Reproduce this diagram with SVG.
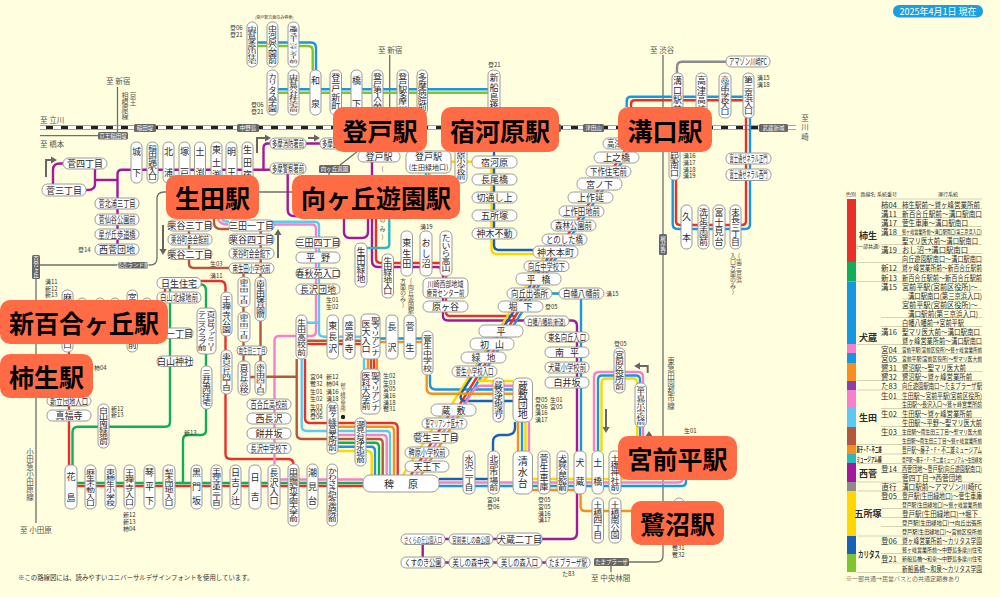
<svg xmlns="http://www.w3.org/2000/svg" width="1000" height="597" viewBox="0 0 1000 597">
<style>
text{font-family:"Noto Sans CJK JP","Noto Sans",sans-serif;fill:#2c2c2c}
.s{fill:#fff;stroke:#9a9a9a;stroke-width:1}
.v{writing-mode:vertical-rl;text-orientation:upright;text-anchor:middle;font-size:9px}
.h{text-anchor:middle;dominant-baseline:central;font-size:9px}
.l{font-size:6px;dominant-baseline:central;fill:#333}
.a{font-size:9px;dominant-baseline:central;fill:#555}
.av{writing-mode:vertical-rl;text-orientation:upright;text-anchor:middle;font-size:6px;fill:#555}
.b{fill:#666}
.bt{text-anchor:middle;dominant-baseline:central;font-size:5.5px;fill:#fff}
.btv{writing-mode:vertical-rl;text-orientation:upright;text-anchor:middle;font-size:5.5px;fill:#fff}
.c{fill:#ff6b45}
.ct{text-anchor:middle;dominant-baseline:central;font-size:25px;font-weight:700;fill:#000}
path{fill:none;stroke-width:2.4}
.red{stroke:#e8302a}.grn{stroke:#10ad5a}.blu{stroke:#1797df}.lbl{stroke:#5cc9f5}.pnk{stroke:#f680cb}.brn{stroke:#b4573f}.org{stroke:#f78f1e}.pur{stroke:#a4189c}.yel{stroke:#ffd600}.dbl{stroke:#1c5fb7}.lim{stroke:#7dc42f}.tea{stroke:#2db7bf}.gry{stroke:#8c8c8c}
.rl{stroke:#6f6f6f;stroke-width:1.3}
.ar{stroke:#666;stroke-width:2}
.lh{font-size:5px;text-anchor:middle;dominant-baseline:central;fill:#333}
.lc{font-size:7.5px;dominant-baseline:central;fill:#2c2c2c}
.ln{font-size:7.5px;text-anchor:middle;dominant-baseline:central;fill:#2c2c2c}
.lg{font-size:9px;font-weight:700;text-anchor:middle;dominant-baseline:central}
.sep{stroke:#c9c9a8;stroke-width:.8}
</style>
<defs><marker id="ah" markerWidth="3" markerHeight="3.6" refX="1" refY="1.8" orient="auto"><polygon points="0,0 3,1.8 0,3.6" fill="#666"/></marker></defs>
<rect width="1000" height="597" fill="#ffffdf"/>
<g id="connectors">
<path d="M40 127.6H796" style="stroke:#a5a5a5;stroke-width:5"/>
<path d="M40 127.6H796" style="stroke:#fff;stroke-width:3"/>
<path d="M46 127.6H796" style="stroke:#222;stroke-width:3;stroke-dasharray:7 8"/>
<path class="rl" d="M40 135.7H98M117.5 87V132M36 279V523M40 265H118M148 265H150Q157 265 157 258V199Q157 192 164 192H292M389.7 55V107M340 165L358 151M329 173V176M663 55V556Q663 562 656 562H629M611 566V572"/>
<path class="blu" d="M257 42.5H311Q316 42.5 316 48V70M272 89.3H488"/>
<path class="lim" d="M257 46H308Q312.7 46 312.7 51V70M272 92.7H488"/>
<path class="pur" d="M270 169.7H122Q117.5 169.7 117.5 174V250M95 180H117.5M95 165V184Q95 190 88 190H84M53 185V170Q53 163.5 60 163.5H65M270 143.5H268Q263.5 143.5 263.5 148V169.7M306 143.5H322M287.7 172V210Q287.7 216 294 216H300M344 215V232Q344 238 350 238H362Q368 238 368 232V215M372 160V261Q372 267 378 267H437Q443 267 443 273V316Q443 320.5 448 320.5H524M569 320.5H572Q577 320.5 577 326V533Q577 539 571 539H540M445 539H497M445 562.5H546M422.7 544V557"/>
<path class="red" d="M631 107V104Q631 100.3 635 100.3H746V221Q746 225 742 225H680Q676 225 676 221V180M626 149L552 258L460 404M376 219V258Q376 263 381 263H441Q446 263 446 268V312Q446 316 450 316H515M451 412L411 475M69 352V465M70 486H363M201 281H220Q225.5 281 225.5 287V454Q225.5 459 231 459H288Q293.5 459 293.5 464M165 288V292M305 359V418Q305 423 310 423H327M338 423H393Q397.7 423 397.7 428V475M306 344H361"/>
<path class="blu" d="M626.7 107V101Q626.7 96.7 631 96.7H745Q750 96.7 750 101V224Q750 229 745 229H677.7Q672.7 229 672.7 224V180M631 149L556 258L464 404M338 446.7H371Q375 446.7 375 451V475M439 486H682Q686 486 686 481V470M598 451V380Q598 375.5 602 375.5H636Q640 375.5 640 380V436M380 338.5H422M430 375V384Q430 389.5 436 389.5H513M552 293.5H559M581 299V451M522 422V451"/>
<path class="yel" d="M451 161.7H472M491.5 168V249Q491.5 254 497 254H533M549 250L452 404M489 375Q484 381 478 381H513M443 412L403 475M338 451H367Q371.7 451 371.7 456V475M532 479H625M601.5 451V383Q601.5 378.5 606 378.5H633Q637 378.5 637 383V436M525.5 422V451"/>
<path class="dbl" d="M494 107V245Q494 250 499 250H533M553 250L462 392Q458 401 466 401H513M439 479H493M493 451V442Q493 436 499 435H508Q515 434 515 428V422"/>
<path class="pnk" d="M218 219Q220 224.5 228 224.5M259 224.5H312Q316 224.5 316 229V331Q316 336 311 336H279Q274.5 336 274.5 341V464M465 404L473 391Q476 385.7 482 385.7H513M456 412L416 475M338 435H383Q386.7 435 386.7 439V475M280 479.5H363M439 482.5H678Q683 482.5 683 478V470M594 451V377Q594 372 599 372H638Q643 372 643 377V436M529 422V451"/>
<path class="lbl" d="M222 219Q224 221.7 229 221.7M259 221.7H315Q319 221.7 319 226V332Q319 336.7 324 336.7H361M306 322.7H319M301.7 359V426Q301.7 431 307 431H327M338 431H386Q390 431 390 435V475M364 359V369"/>
<path class="brn" d="M214 219V222Q214 229 221 229H229M189 231V249M189 259V263Q189 268 194 268H229M260.7 231V263M243.5 273V277M260.5 273V277M243.5 307V312M243.5 342V361M260.5 321V361M250 377H255M266 376.7H297M296.7 359V434Q296.7 439 302 439H327M338 439H379Q382.7 439 382.7 443V475M306 340.7H361M371 359V369"/>
<path class="org" d="M380 342H422M426.7 375V388Q426.7 393.7 432 393.7H513M461 412L421 475M338 426.7H390Q394 426.7 394 431V475M532 490H575M580.6 494V506Q580.6 511 585 511H631M518 422V451M368 359V369M377 359V369"/>
<path class="red" d="M374 359V369"/>
<path class="grn" d="M72.5 465V432Q72.5 426.7 78 426.7H165Q170 426.7 170 422V288M201 284.5Q206 284.5 206 291V430Q206 435 201 435H188Q183 435 183 440V483M70 483H363M338 442.7H375Q379 442.7 379 447V475"/>
<path class="tea" d="M367 248H385Q389.3 248 389.3 244V219M426 173V176"/>
<path class="org" d="M429 173V176"/>
<path class="gry" d="M726 61.7H682Q677 61.7 677 67V73"/>
<path class="ar" d="M46 177V160H53" marker-end="url(#ah)"/>
<path class="ar" d="M257 153V138H267" marker-end="url(#ah)"/>
<path class="ar" d="M308 138H316" marker-end="url(#ah)"/>
<path class="ar" d="M163 225V251" marker-end="url(#ah)"/>
<path class="ar" d="M278 258V233" marker-end="url(#ah)"/>
<path class="ar" d="M606 409V429" marker-end="url(#ah)"/>
<path class="ar" d="M647.7 373V366H638" marker-end="url(#ah)"/>
<polygon points="649,431 645,437 653,437" fill="#666"/>
</g>
<g id="rail-boxes">
<g id="b1"><rect class="b" x="98" y="132" width="30" height="7.5" rx="1.5"/><text class="bt" x="113" y="135.8">京王稲田堤</text></g>
<g id="b2"><rect class="b" x="134" y="124" width="22" height="8" rx="1.5"/><text class="bt" x="145" y="128">稲田堤</text></g>
<g id="b3"><rect class="b" x="237" y="124" width="22" height="8" rx="1.5"/><text class="bt" x="248" y="128">中野島</text></g>
<g id="b4"><rect class="b" x="540" y="124" width="21" height="8" rx="1.5"/><text class="bt" x="550" y="128">久地</text></g>
<g id="b5"><rect class="b" x="583" y="124" width="21" height="8" rx="1.5"/><text class="bt" x="593.5" y="128">津田山</text></g>
<g id="b6"><rect class="b" x="759" y="124" width="29" height="8" rx="1.5"/><text class="bt" x="773.5" y="128">武蔵新城</text></g>
<g id="b7"><rect class="b" x="319" y="165" width="31" height="8" rx="1.5"/><text class="bt" x="334.5" y="169">向ヶ丘遊園</text></g>
<g id="b8"><rect class="b" x="118" y="262" width="30" height="6.5" rx="1.5"/><text class="bt" x="133" y="265.2">読売ランド前</text></g>
<g id="b9"><rect class="b" x="32" y="255" width="8" height="24" rx="1.5"/><text class="btv" x="36" y="267">百合ヶ丘</text></g>
<g id="b10"><rect class="b" x="659" y="234" width="8" height="21" rx="1.5"/><text class="btv" x="663" y="244.5">梶が谷</text></g>
<g id="b11"><rect class="b" x="594" y="558" width="35" height="8" rx="1.5"/><text class="bt" x="611.5" y="562">たまプラーザ</text></g>
</g>
<g id="stations">
<g id="n1"><rect class="s" x="247" y="22" width="10.5" height="45" rx="5"/><text class="v" transform="translate(252 44.5) scale(1 .53)">中野島多摩川住宅</text></g>
<g id="n2"><rect class="s" x="267" y="22" width="11" height="45" rx="5"/><text class="v" transform="translate(272.5 44.5) scale(1 .7)">中河原公園前</text></g>
<g id="n3"><rect class="s" x="288" y="22" width="11" height="45" rx="5"/><text class="v" transform="translate(293.5 44.5) scale(1 .38)">多摩スポーツセンター前</text></g>
<g id="n4"><rect class="s" x="267" y="70" width="11" height="45" rx="5"/><text class="v" transform="translate(272.5 92.5) scale(1 .7)">カリタス学園</text></g>
<g id="n5"><rect class="s" x="288" y="70" width="11" height="45" rx="5"/><text class="v" transform="translate(293.5 92.5) scale(1 .53)">中野島公社住宅前</text></g>
<g id="n6"><rect class="s" x="310" y="70" width="11" height="45" rx="5"/><text class="v" x="315.5" y="92.5" textLength="32">和泉</text></g>
<g id="n7"><rect class="s" x="330" y="70" width="11.5" height="45" rx="5"/><text class="v" x="335.7" y="92.5" textLength="38">登戸新町</text></g>
<g id="n8"><rect class="s" x="351" y="70" width="11" height="45" rx="5"/><text class="v" x="356.5" y="92.5" textLength="32">橋下</text></g>
<g id="n9"><rect class="s" x="372" y="70" width="11" height="45" rx="5"/><text class="v" transform="translate(377.5 92.5) scale(1 .7)">登戸第1公園</text></g>
<g id="n10"><rect class="s" x="397" y="70" width="11.5" height="45" rx="5"/><text class="v" transform="translate(402.7 92.5) scale(1 .7)">登戸駅多摩川</text></g>
<g id="n11"><rect class="s" x="417" y="70" width="10.5" height="45" rx="5"/><text class="v" transform="translate(422.2 92.5) scale(1 .84)">多摩病院前</text></g>
<g id="n12"><rect class="s" x="488" y="70" width="12" height="45" rx="5"/><text class="v" x="494" y="92.5" textLength="38">新船島橋</text></g>
<g id="n13"><rect class="s" x="455" y="140" width="12" height="43" rx="5"/><text class="v" transform="translate(461 161.5) scale(1 .57)">宿河原小学校前</text></g>
<g id="n14"><rect class="s" x="358" y="151" width="42" height="11" rx="5"/><text class="h" x="379" y="156.5">登戸駅</text></g>
<g id="n15"><rect class="s" x="406" y="151" width="45" height="22" rx="5"/><text class="h" x="428.5" y="156.5">登戸駅</text><text class="h" x="428.5" y="167" style="font-size:7px">(生田緑地口)</text></g>
<g id="n16"><rect class="s" x="472" y="156" width="45" height="12" rx="5.5"/><text class="h" x="494.5" y="162">宿河原</text></g>
<g id="n17"><rect class="s" x="472" y="174" width="45" height="11" rx="5.5"/><text class="h" x="494.5" y="179.5">長尾橋</text></g>
<g id="n18"><rect class="s" x="472" y="192" width="45" height="11" rx="5.5"/><text class="h" x="494.5" y="197.5">切通し上</text></g>
<g id="n19"><rect class="s" x="472" y="210" width="45" height="11" rx="5.5"/><text class="h" x="494.5" y="215.5">五所塚</text></g>
<g id="n20"><rect class="s" x="472" y="228" width="45" height="11" rx="5.5"/><text class="h" x="494.5" y="233.5">神木不動</text></g>
<g id="n21"><rect class="s" x="533" y="246" width="45" height="12" rx="5.5"/><text class="h" x="555.5" y="252" textLength="37">神木本町</text></g>
<g id="n22"><rect class="s" x="524" y="261" width="45" height="10.5" rx="5"/><text class="h" x="546.5" y="266.2" textLength="37" lengthAdjust="spacingAndGlyphs">向丘中学校下</text></g>
<g id="n23"><rect class="s" x="516" y="273" width="45" height="12" rx="5.5"/><text class="h" x="538.5" y="279" textLength="24">平 橋</text></g>
<g id="n24"><rect class="s" x="507" y="288" width="45" height="11" rx="5.5"/><text class="h" x="529.5" y="293.5" textLength="37" lengthAdjust="spacingAndGlyphs">向丘出張所</text></g>
<g id="n25"><rect class="s" x="559" y="288" width="45" height="11" rx="5.5"/><text class="h" x="581.5" y="293.5" textLength="37" lengthAdjust="spacingAndGlyphs">白幡八幡前</text></g>
<g id="n26"><rect class="s" x="542" y="234" width="45" height="11" rx="5.5"/><text class="h" x="564.5" y="239.5" textLength="37" lengthAdjust="spacingAndGlyphs">とのした橋</text></g>
<g id="n27"><rect class="s" x="551" y="220" width="45" height="11" rx="5.5"/><text class="h" x="573.5" y="225.5" textLength="37" lengthAdjust="spacingAndGlyphs">森林公園前</text></g>
<g id="n28"><rect class="s" x="559" y="206" width="45" height="11" rx="5.5"/><text class="h" x="581.5" y="211.5" textLength="37" lengthAdjust="spacingAndGlyphs">上作田地前</text></g>
<g id="n29"><rect class="s" x="568" y="192" width="45" height="11" rx="5.5"/><text class="h" x="590.5" y="197.5">上作延</text></g>
<g id="n30"><rect class="s" x="577" y="178" width="45" height="12" rx="5.5"/><text class="h" x="599.5" y="184">宮ノ下</text></g>
<g id="n31"><rect class="s" x="586" y="166" width="45" height="11" rx="5.5"/><text class="h" x="608.5" y="171.5" textLength="37" lengthAdjust="spacingAndGlyphs">下作住宅前</text></g>
<g id="n32"><rect class="s" x="594" y="152" width="45" height="11" rx="5.5"/><text class="h" x="616.5" y="157.5">上之橋</text></g>
<g id="n33"><rect class="s" x="603" y="138" width="45" height="11" rx="5.5"/><text class="h" x="625.5" y="143.5" textLength="37" lengthAdjust="spacingAndGlyphs">高津区役所</text></g>
<g id="n34"><rect class="s" x="498" y="301" width="45" height="11" rx="5.5"/><text class="h" x="520.5" y="306.5" textLength="24">堀 下</text></g>
<g id="n35"><rect class="s" x="524" y="316" width="45" height="10" rx="5"/><text class="h" x="546.5" y="321" textLength="38" lengthAdjust="spacingAndGlyphs" style="font-size:8px">白幡八幡前(新道)</text></g>
<g id="n36"><rect class="s" x="479" y="325" width="44" height="12" rx="5.5"/><text class="h" x="501" y="331">平</text></g>
<g id="n37"><rect class="s" x="470" y="338" width="44" height="12" rx="5.5"/><text class="h" x="492" y="344" textLength="24">初 山</text></g>
<g id="n38"><rect class="s" x="461" y="352" width="45" height="11" rx="5.5"/><text class="h" x="483.5" y="357.5" textLength="24">緑 地</text></g>
<g id="n39"><rect class="s" x="452" y="366" width="45" height="11" rx="5.5"/><text class="h" x="474.5" y="371.5" textLength="38" lengthAdjust="spacingAndGlyphs">菅生小学校入口</text></g>
<g id="n40"><rect class="s" x="431" y="404" width="45" height="12" rx="5.5"/><text class="h" x="453.5" y="410" textLength="24">蔵 敷</text></g>
<g id="n41"><rect class="s" x="422" y="418" width="45" height="11" rx="5.5"/><text class="h" x="444.5" y="423.5" textLength="38" lengthAdjust="spacingAndGlyphs">聖マリアンナ医大下</text></g>
<g id="n42"><rect class="s" x="414" y="432" width="44" height="11" rx="5.5"/><text class="h" x="436" y="437.5">菅生三丁目</text></g>
<g id="n43"><rect class="s" x="405" y="447" width="44" height="11" rx="5.5"/><text class="h" x="427" y="452.5" textLength="37" lengthAdjust="spacingAndGlyphs">稗原小学校前</text></g>
<g id="n44"><rect class="s" x="405" y="461" width="44" height="11" rx="5.5"/><text class="h" x="427" y="466.5">天王下</text></g>
<g id="n45"><rect class="s" x="363" y="475" width="76" height="17" rx="7"/><text class="h" x="401" y="483.5" style="font-size:10px" textLength="34">稗 原</text></g>
<g id="n46"><rect class="s" x="423" y="301" width="45" height="11" rx="5.5"/><text class="h" x="445.5" y="306.5">原ヶ谷</text></g>
<g id="n47"><rect class="s" x="423" y="278" width="45" height="20" rx="5"/><text class="h" x="445.5" y="283.5" textLength="36" lengthAdjust="spacingAndGlyphs" style="font-size:8px">川崎西部地域</text><text class="h" x="445.5" y="292.5" textLength="38" lengthAdjust="spacingAndGlyphs" style="font-size:8px">療育センター前</text></g>
<g id="n48"><rect class="s" x="440" y="231" width="12" height="45" rx="5"/><text class="v" transform="translate(446 253.5) scale(1 .84)">たいら高山</text></g>
<g id="n49"><rect class="s" x="420" y="231" width="12" height="45" rx="5"/><text class="v" x="426" y="253.5" textLength="30">おし沼</text></g>
<g id="n50"><rect class="s" x="401" y="231" width="11.5" height="45" rx="5"/><text class="v" x="406.7" y="253.5" textLength="30">東生田</text></g>
<g id="n51"><rect class="s" x="382" y="254" width="11.5" height="44" rx="5"/><text class="v" transform="translate(387.7 276) scale(1 .7)">生田緑地入口</text></g>
<g id="n52"><rect class="s" x="355" y="243" width="12" height="44" rx="5"/><text class="v" x="361" y="265" textLength="36">生田緑地</text></g>
<g id="n53"><rect class="s" x="545" y="332" width="44" height="10" rx="5"/><text class="h" x="567" y="337" textLength="38" lengthAdjust="spacingAndGlyphs">東名向丘入口</text></g>
<g id="n54"><rect class="s" x="545" y="347" width="44" height="10.5" rx="5"/><text class="h" x="567" y="352" textLength="24">南 平</text></g>
<g id="n55"><rect class="s" x="545" y="362" width="44" height="11" rx="5"/><text class="h" x="567" y="367.5" textLength="38" lengthAdjust="spacingAndGlyphs">犬蔵小学校前</text></g>
<g id="n56"><rect class="s" x="545" y="377" width="44" height="11" rx="5"/><text class="h" x="567" y="382.5">白井坂</text></g>
<g id="n57"><rect class="s" x="493" y="378" width="11" height="44" rx="5"/><text class="v" transform="translate(498.5 400) scale(1 .6)">蔵敷浄水場通り</text></g>
<g id="n58"><rect class="s" x="513" y="378" width="19.5" height="44" rx="6"/><text class="v" x="522.7" y="400" style="font-size:10px" textLength="38">蔵敷団地</text></g>
<g id="n59"><rect class="s" x="513" y="451" width="19.5" height="43" rx="6"/><text class="v" x="522.7" y="472.5" style="font-size:10px" textLength="32">清水台</text></g>
<g id="n60"><rect class="s" x="463" y="451" width="12" height="43" rx="5"/><text class="v" transform="translate(469 472.5) scale(1 .82)">水沢二丁目</text></g>
<g id="n61"><rect class="s" x="488" y="451" width="11.5" height="43" rx="5"/><text class="v" transform="translate(493.7 472.5) scale(1 .82)">北部市場前</text></g>
<g id="n62"><rect class="s" x="538" y="451" width="12" height="43" rx="5"/><text class="v" x="544" y="472.5" textLength="37">菅生車庫</text></g>
<g id="n63"><rect class="s" x="557" y="451" width="11" height="43" rx="5"/><text class="v" transform="translate(562.5 472.5) scale(1 .68)">犬蔵公民館前</text></g>
<g id="n64"><rect class="s" x="574" y="451" width="12" height="43" rx="5"/><text class="v" x="580" y="472.5" textLength="28">犬蔵</text></g>
<g id="n65"><rect class="s" x="592" y="451" width="11.5" height="43" rx="5"/><text class="v" x="597.7" y="472.5" textLength="28">土橋</text></g>
<g id="n66"><rect class="s" x="609" y="451" width="12" height="43" rx="5"/><text class="v" transform="translate(615 472.5) scale(1 .82)">土橋神社前</text></g>
<g id="n67"><rect class="s" x="592" y="498" width="11.5" height="45" rx="5"/><text class="v" transform="translate(597.7 520.5) scale(1 .84)">土橋四丁目</text></g>
<g id="n68"><rect class="s" x="609" y="498" width="12" height="45" rx="5"/><text class="v" transform="translate(615 520.5) scale(1 .84)">土橋南公園</text></g>
<g id="n69"><rect class="s" x="614" y="348" width="11" height="45" rx="5"/><text class="v" transform="translate(619.5 370.5) scale(1 .7)">宮前区役所前</text></g>
<g id="n70"><rect class="s" x="635" y="383" width="11.5" height="44" rx="5"/><text class="v" transform="translate(640.7 405) scale(1 .53)">富士見台小学校前</text></g>
<g id="n71"><rect class="s" x="401" y="534" width="44" height="10.5" rx="5"/><text class="h" x="423" y="539.2" textLength="38" lengthAdjust="spacingAndGlyphs" style="font-size:8px">さくらの丘公園入口</text></g>
<g id="n72"><rect class="s" x="449" y="534" width="44" height="10.5" rx="5"/><text class="h" x="471" y="539.2" textLength="38" lengthAdjust="spacingAndGlyphs" style="font-size:8px">宮前美しの森公園</text></g>
<g id="n73"><rect class="s" x="497" y="533" width="45" height="12" rx="5"/><text class="h" x="519.5" y="539">犬蔵二丁目</text></g>
<g id="n74"><rect class="s" x="401" y="557" width="44" height="11" rx="5"/><text class="h" x="423" y="562.5" textLength="37" lengthAdjust="spacingAndGlyphs">くすのき公園</text></g>
<g id="n75"><rect class="s" x="449" y="557" width="44" height="11" rx="5"/><text class="h" x="471" y="562.5" textLength="37" lengthAdjust="spacingAndGlyphs">美しの森中央</text></g>
<g id="n76"><rect class="s" x="497" y="557" width="45" height="11" rx="5"/><text class="h" x="519.5" y="562.5" textLength="37" lengthAdjust="spacingAndGlyphs">美しの森入口</text></g>
<g id="n77"><rect class="s" x="546" y="557" width="44" height="11" rx="5"/><text class="h" x="568" y="562.5" textLength="38" lengthAdjust="spacingAndGlyphs">たまプラーザ駅</text></g>
<g id="n78"><rect class="s" x="65" y="465" width="12" height="44" rx="5"/><text class="v" x="71" y="487" textLength="30">花島</text></g>
<g id="n79"><rect class="s" x="85" y="465" width="11" height="44" rx="5"/><text class="v" transform="translate(90.5 487) scale(1 .68)">麻生不動入口</text></g>
<g id="n80"><rect class="s" x="105" y="465" width="11" height="44" rx="5"/><text class="v" transform="translate(110.5 487) scale(1 .68)">東柿生小学校</text></g>
<g id="n81"><rect class="s" x="124" y="465" width="11" height="44" rx="5"/><text class="v" transform="translate(129.5 487) scale(1 .82)">王禅寺入口</text></g>
<g id="n82"><rect class="s" x="144" y="465" width="11" height="44" rx="5"/><text class="v" x="149.5" y="487" textLength="37">琴平下</text></g>
<g id="n83"><rect class="s" x="163" y="465" width="12" height="44" rx="5"/><text class="v" transform="translate(169 487) scale(1 .68)">梨木団地入口</text></g>
<g id="n84"><rect class="s" x="191" y="465" width="11" height="44" rx="5"/><text class="v" x="196.5" y="487" textLength="37">黒門坂</text></g>
<g id="n85"><rect class="s" x="211" y="465" width="11" height="44" rx="5"/><text class="v" transform="translate(216.5 487) scale(1 .59)">王禅寺東三丁目</text></g>
<g id="n86"><rect class="s" x="230" y="465" width="11" height="44" rx="5"/><text class="v" x="235.5" y="487" textLength="37">日吉ノ辻</text></g>
<g id="n87"><rect class="s" x="249" y="465" width="12" height="44" rx="5"/><text class="v" x="255" y="487" textLength="28">日吉</text></g>
<g id="n88"><rect class="s" x="268" y="465" width="12" height="44" rx="5"/><text class="v" x="274" y="487" textLength="37">長沢入口</text></g>
<g id="n89"><rect class="s" x="288" y="464" width="11" height="62" rx="5"/><text class="v" transform="translate(293.5 495) scale(1 .67)">田園調布学園大学前</text></g>
<g id="n90"><rect class="s" x="307" y="464" width="11" height="45" rx="5"/><text class="v" x="312.5" y="486.5" textLength="37">潮見台</text></g>
<g id="n91"><rect class="s" x="327" y="464" width="10.5" height="62" rx="5"/><text class="v" transform="translate(332.2 495) scale(1 .67)">かわさき記念病院前</text></g>
<g id="n92"><rect class="s" x="327" y="402" width="11" height="52" rx="5"/><text class="v" transform="translate(332.5 428) scale(1 .73)">鷲ヶ峰営業所前</text></g>
<g id="n93"><rect class="s" x="355" y="418" width="11" height="48" rx="5"/><text class="v" transform="translate(360.5 442) scale(1 .67)">潮見台浄水場前</text></g>
<g id="n94"><rect class="s" x="296" y="315" width="11" height="44" rx="5"/><text class="v" transform="translate(301.5 337) scale(1 .82)">生田高校前</text></g>
<g id="n95"><rect class="s" x="327" y="315" width="11.5" height="44" rx="5"/><text class="v" x="332.7" y="337" textLength="32">東長沢</text></g>
<g id="n96"><rect class="s" x="343" y="315" width="12" height="44" rx="5"/><text class="v" x="349" y="337" textLength="32">盛源寺</text></g>
<g id="n97"><rect class="s" x="361" y="314" width="19" height="45" rx="5"/><text class="v" transform="translate(375.5 336.5) scale(1 .7)">聖マリアンナ</text><text class="v" transform="translate(366 336.5) scale(1 .94)">医大入口</text></g>
<g id="n98"><rect class="s" x="361" y="369" width="19" height="45" rx="5"/><text class="v" transform="translate(375.5 391.5) scale(1 .7)">聖マリアンナ</text><text class="v" transform="translate(366 391.5) scale(1 .84)">医科大学前</text></g>
<g id="n99"><rect class="s" x="386" y="315" width="12" height="44" rx="5"/><text class="v" x="392" y="337" textLength="30">長沢</text></g>
<g id="n100"><rect class="s" x="404" y="315" width="12" height="44" rx="5"/><text class="v" x="410" y="337" textLength="30">菅生</text></g>
<g id="n101"><rect class="s" x="422" y="331" width="11" height="44" rx="5"/><text class="v" transform="translate(427.5 353) scale(1 .82)">菅生中学校</text></g>
<g id="n102"><rect class="s" x="296" y="237" width="44" height="11" rx="5"/><text class="h" x="318" y="242.5">三田四丁目</text></g>
<g id="n103"><rect class="s" x="296" y="252" width="44" height="11" rx="5"/><text class="h" x="318" y="257.5" textLength="24">平 野</text></g>
<g id="n104"><rect class="s" x="296" y="268" width="44" height="10.5" rx="5"/><text class="h" x="318" y="273.2">春秋苑入口</text></g>
<g id="n105"><rect class="s" x="296" y="284" width="44" height="10.5" rx="5"/><text class="h" x="318" y="289.2">長沢団地</text></g>
<g id="n106"><rect class="s" x="247" y="399" width="44" height="10.5" rx="5"/><text class="h" x="269" y="404.2" textLength="37" lengthAdjust="spacingAndGlyphs">百合丘高校前</text></g>
<g id="n107"><rect class="s" x="247" y="413" width="44" height="11" rx="5"/><text class="h" x="269" y="418.5">西長沢</text></g>
<g id="n108"><rect class="s" x="247" y="428" width="44" height="11" rx="5"/><text class="h" x="269" y="433.5">餅井坂</text></g>
<g id="n109"><rect class="s" x="247" y="443" width="44" height="10.5" rx="5"/><text class="h" x="269" y="448.2" textLength="37" lengthAdjust="spacingAndGlyphs">長沢中学校下</text></g>
<g id="n110"><rect class="s" x="238" y="277" width="12" height="30" rx="5"/><text class="v" transform="translate(244 292) scale(1 .46)">南生田二丁目</text></g>
<g id="n111"><rect class="s" x="255" y="277" width="11" height="44" rx="5"/><text class="v" transform="translate(260.5 299) scale(1 .6)">南生田保育園前</text></g>
<g id="n112"><rect class="s" x="238" y="312" width="12" height="30" rx="5"/><text class="v" transform="translate(244 327) scale(1 .46)">南生田一丁目</text></g>
<g id="n113"><rect class="s" x="237" y="346" width="30" height="9" rx="4"/><text class="h" x="252" y="350.5" textLength="27" lengthAdjust="spacingAndGlyphs" style="font-size:8px">南生田三丁目</text></g>
<g id="n114"><rect class="s" x="238" y="361" width="12" height="34" rx="5"/><text class="v" transform="translate(244 378) scale(1 .64)">百合丘高校</text></g>
<g id="n115"><rect class="s" x="255" y="361" width="11" height="34" rx="5"/><text class="v" transform="translate(260.5 378) scale(1 .54)">南生田四丁目</text></g>
<g id="n116"><rect class="s" x="221" y="292" width="11" height="44" rx="5"/><text class="v" transform="translate(226.5 314) scale(1 .82)">王禅寺公園</text></g>
<g id="n117"><rect class="s" x="221" y="350" width="11" height="44" rx="5"/><text class="v" transform="translate(226.5 372) scale(1 .59)">東百合丘四丁目</text></g>
<g id="n118"><rect class="s" x="197" y="308" width="19" height="46" rx="5"/><text class="v" transform="translate(211 331) scale(1 .56)">百合丘ファミリー</text><text class="v" transform="translate(202 331) scale(1 .63)">テニスクラブ前</text></g>
<g id="n119"><rect class="s" x="201" y="366" width="11" height="43" rx="5"/><text class="v" transform="translate(206.5 387.5) scale(1 .68)">三井第四住宅</text></g>
<g id="n120"><rect class="s" x="157" y="277.5" width="44" height="11" rx="5"/><text class="h" x="179" y="283">日生住宅</text></g>
<g id="n121"><rect class="s" x="157" y="292" width="44" height="11" rx="5"/><text class="h" x="179" y="297.5" textLength="38" lengthAdjust="spacingAndGlyphs">白山北緑地前</text></g>
<g id="n122"><rect class="s" x="148" y="328" width="45" height="10.5" rx="5"/><text class="h" x="170.5" y="333.2">白山一丁目</text></g>
<g id="n123"><rect class="s" x="157" y="356" width="36" height="10.5" rx="5"/><text class="h" x="175" y="361.2">白山神社</text></g>
<g id="n124"><rect class="s" x="98" y="404" width="11" height="44" rx="5"/><text class="v" transform="translate(103.5 426) scale(1 .7)">白山南緑地前</text></g>
<g id="n125"><rect class="s" x="47" y="410" width="44" height="11" rx="5"/><text class="h" x="69" y="415.5">真福寺</text></g>
<g id="n126"><rect class="s" x="47" y="396" width="44" height="10" rx="5"/><text class="h" x="69" y="401" textLength="38" lengthAdjust="spacingAndGlyphs">新立団地入口</text></g>
<g id="n127"><rect class="s" x="62" y="290" width="11" height="62" rx="5"/><text class="v" transform="translate(67.5 321) scale(1 .89)">麻生区役所入口</text></g>
<g id="n128"><rect class="s" x="127" y="290" width="10.5" height="62" rx="5"/><text class="v" x="132.2" y="321" textLength="56">宮前区役所前</text></g>
<rect class="s" x="77" y="298" width="10" height="40" rx="5"/><rect class="s" x="95" y="298" width="10" height="40" rx="5"/><rect class="s" x="110" y="298" width="10" height="40" rx="5"/><rect class="s" x="142" y="298" width="10" height="40" rx="5"/>
<g id="n129"><rect class="s" x="131" y="142" width="11" height="41" rx="5"/><text class="v" x="136.5" y="162.5" textLength="30">城下</text></g>
<g id="n130"><rect class="s" x="147" y="142" width="11" height="41" rx="5"/><text class="v" transform="translate(152.5 162.5) scale(1 .65)">稲田堤駅入口</text></g>
<g id="n131"><rect class="s" x="163" y="142" width="11" height="41" rx="5"/><text class="v" x="168.5" y="162.5" textLength="30">北浦</text></g>
<g id="n132"><rect class="s" x="179" y="142" width="11" height="41" rx="5"/><text class="v" x="184.5" y="162.5" textLength="30">塚戸</text></g>
<g id="n133"><rect class="s" x="194.5" y="142" width="11" height="41" rx="5"/><text class="v" x="200" y="162.5" textLength="30">土渕</text></g>
<g id="n134"><rect class="s" x="211" y="142" width="11" height="41" rx="5"/><text class="v" x="216.5" y="162.5" textLength="34">東土渕</text></g>
<g id="n135"><rect class="s" x="226" y="142" width="11" height="41" rx="5"/><text class="v" x="231.5" y="162.5" textLength="30">明王</text></g>
<g id="n136"><rect class="s" x="242" y="142" width="11" height="41" rx="5"/><text class="v" x="247.5" y="162.5" textLength="34">生田宿</text></g>
<g id="n137"><rect class="s" x="270" y="138" width="36" height="11" rx="5"/><text class="h" x="288" y="143.5" textLength="32" lengthAdjust="spacingAndGlyphs">多摩消防署前</text></g>
<g id="n138"><rect class="s" x="270" y="163" width="36" height="11" rx="5"/><text class="h" x="288" y="168.5" textLength="32" lengthAdjust="spacingAndGlyphs">多摩警察署前</text></g>
<g id="n139"><rect class="s" x="320" y="138" width="36" height="11" rx="5"/><text class="h" x="338" y="143.5" textLength="32" lengthAdjust="spacingAndGlyphs">多摩区役所前</text></g>
<g id="n140"><rect class="s" x="42" y="184" width="44" height="12" rx="5.5"/><text class="h" x="64" y="190">菅三丁目</text></g>
<g id="n141"><rect class="s" x="63" y="158" width="44" height="11" rx="5.5"/><text class="h" x="85" y="163.5">菅四丁目</text></g>
<g id="n142"><rect class="s" x="95" y="198" width="44" height="11" rx="5"/><text class="h" x="117" y="203.5" textLength="37" lengthAdjust="spacingAndGlyphs">菅北浦三丁目</text></g>
<g id="n143"><rect class="s" x="95" y="214" width="44" height="11" rx="5"/><text class="h" x="117" y="219.5" textLength="37" lengthAdjust="spacingAndGlyphs">菅仙谷公園前</text></g>
<g id="n144"><rect class="s" x="95" y="229" width="44" height="10.5" rx="5"/><text class="h" x="117" y="234.2" textLength="37" lengthAdjust="spacingAndGlyphs">星が丘歩道橋</text></g>
<g id="n145"><rect class="s" x="95" y="244" width="44" height="11" rx="5"/><text class="h" x="117" y="249.5">西菅団地</text></g>
<g id="n146"><rect class="s" x="168" y="220" width="44" height="11" rx="5"/><text class="h" x="190" y="225.5">栗谷三丁目</text></g>
<g id="n147"><rect class="s" x="168" y="234" width="44" height="11" rx="5"/><text class="h" x="190" y="239.5" textLength="38" lengthAdjust="spacingAndGlyphs">栗谷町会会館前</text></g>
<g id="n148"><rect class="s" x="168" y="249" width="44" height="10.5" rx="5"/><text class="h" x="190" y="254.2">栗谷二丁目</text></g>
<g id="n149"><rect class="s" x="229" y="220" width="45" height="11" rx="5"/><text class="h" x="251.5" y="225.5">三田一丁目</text></g>
<g id="n150"><rect class="s" x="229" y="234" width="45" height="11" rx="5"/><text class="h" x="251.5" y="239.5">栗谷四丁目</text></g>
<g id="n151"><rect class="s" x="229" y="248" width="45" height="11" rx="5"/><text class="h" x="251.5" y="253.5" textLength="38" lengthAdjust="spacingAndGlyphs">栗谷町会会館下</text></g>
<g id="n152"><rect class="s" x="229" y="263" width="45" height="10.5" rx="5"/><text class="h" x="251.5" y="268.2" textLength="38" lengthAdjust="spacingAndGlyphs">南生田小学校前</text></g>
<g id="n153"><rect class="s" x="672" y="73" width="11" height="44" rx="5"/><text class="v" x="677.5" y="95" textLength="38">溝口駅前</text></g>
<g id="n154"><rect class="s" x="696" y="73" width="11" height="44" rx="5"/><text class="v" x="701.5" y="95" textLength="38">高津高校</text></g>
<g id="n155"><rect class="s" x="719" y="73" width="12" height="45" rx="5"/><text class="v" transform="translate(725 95.5) scale(1 .6)">高津中学校入口</text></g>
<g id="n156"><rect class="s" x="743" y="73" width="11" height="45" rx="5"/><text class="v" transform="translate(748.5 95.5) scale(1 .7)">第三京浜入口</text></g>
<g id="n157"><rect class="s" x="726" y="56" width="44" height="11" rx="5"/><text class="h" x="748" y="61.5" textLength="38" lengthAdjust="spacingAndGlyphs">アマゾン川崎FC</text></g>
<g id="n158"><rect class="s" x="669" y="136" width="11" height="44" rx="5"/><text class="v" transform="translate(674.5 158) scale(1 .84)">溝口駅南口</text></g>
<g id="n159"><rect class="s" x="726" y="153" width="45" height="11" rx="5"/><text class="h" x="748.5" y="158.5" textLength="38" lengthAdjust="spacingAndGlyphs">富士通ゼネラル正門</text></g>
<g id="n160"><rect class="s" x="726" y="169" width="45" height="11.5" rx="5"/><text class="h" x="748.5" y="174.7" textLength="38" lengthAdjust="spacingAndGlyphs">富士通ゼネラル西門</text></g>
<g id="n161"><rect class="s" x="681" y="205" width="11" height="44" rx="5"/><text class="v" x="686.5" y="227" textLength="30">久本</text></g>
<g id="n162"><rect class="s" x="698" y="205" width="11" height="44" rx="5"/><text class="v" transform="translate(703.5 227) scale(1 .84)">洗足学園前</text></g>
<g id="n163"><rect class="s" x="713" y="205" width="12" height="44" rx="5"/><text class="v" x="719" y="227" textLength="38">富士見台</text></g>
<g id="n164"><rect class="s" x="730" y="205" width="11" height="44" rx="5"/><text class="v" transform="translate(735.5 227) scale(1 .84)">末長三丁目</text></g>
<rect class="s" x="674" y="498" width="10" height="40" rx="5"/>
</g>
<g id="labels">
<text class="l" x="230" y="27">登06</text><text class="l" x="230" y="34">登21</text><text class="l" x="251" y="104">登06</text><text class="l" x="251" y="111">登21</text><text class="l" x="488" y="64">登21</text>
<text class="l" x="255" y="17" style="font-size:4px">(登戸駅方面のみ停車)</text>
<text class="l" x="78" y="249">登14</text><text class="l" x="210" y="263">生03</text><text class="l" x="210" y="275">溝11</text>
<text class="l" x="45" y="281">溝11</text><text class="l" x="45" y="288">新12</text><text class="l" x="45" y="294">新13</text>
<text class="l" x="94" y="367">柿04</text><text class="l" x="111" y="408">新12</text><text class="l" x="111" y="414">新13</text><text class="l" x="184" y="432">新13</text>
<text class="l" x="123" y="514">新12</text><text class="l" x="123" y="521">新13</text><text class="l" x="123" y="528">柿04</text>
<text class="l" x="326" y="299">生01</text><text class="l" x="326" y="306">生02</text>
<text class="l" x="310" y="376">宮04</text><text class="l" x="310" y="383">鷺32</text><text class="l" x="310" y="391">生01</text><text class="l" x="310" y="398">生02</text><text class="l" x="310" y="406">生03</text><text class="l" x="310" y="411">登05</text><text class="l" x="310" y="416">登06</text>
<text class="l" x="326" y="376">新12</text><text class="l" x="326" y="383">柿04</text><text class="l" x="326" y="391">溝16</text><text class="l" x="326" y="398">溝18</text>
<text class="av" transform="translate(343 397) scale(1 .9)" style="font-size:5.5px">鷲ヶ峰営業所</text><circle cx="343" cy="417" r="2.2" fill="#222"/>
<text class="l" x="383" y="375">生02</text><text class="l" x="383" y="382">生03</text><text class="l" x="383" y="388">宮05</text><text class="l" x="383" y="395">溝16</text><text class="l" x="383" y="402">溝18</text><text class="l" x="383" y="408">鷺31</text>
<text class="l" x="535" y="399">登05</text><text class="l" x="535" y="406">登06</text><text class="l" x="535" y="412">溝16</text><text class="l" x="535" y="419">溝17</text><text class="l" x="550" y="399">生01</text><text class="l" x="550" y="406">宮05</text>
<text class="l" x="538" y="499">登05</text><text class="l" x="538" y="506">宮05</text><text class="l" x="538" y="513">溝16</text><text class="l" x="538" y="519">溝17</text>
<text class="l" x="487" y="499">宮04</text><text class="l" x="487" y="506">登06</text>
<text class="l" x="420" y="226">溝19</text><text class="l" x="606" y="293.5">溝15</text><text class="l" x="545" y="306.5">登05</text><text class="l" x="614" y="343">登05</text><text class="l" x="562" y="573">た83</text>
<text class="l" x="683" y="155">溝16</text><text class="l" x="683" y="162">溝17</text><text class="l" x="683" y="169">溝18</text><text class="l" x="683" y="175">溝19</text>
<text class="l" x="757" y="77">溝15</text><text class="l" x="757" y="84">溝18</text>
<text class="l" x="684" y="430">生01</text><text class="l" x="672" y="547">鷺31</text><text class="l" x="672" y="554">鷺32</text>
<text class="av" x="739" y="253" style="text-anchor:start" >(第三京浜</text><text class="av" x="733" y="253" style="text-anchor:start">入口方面のみ)</text>
<text class="av" x="411" y="278" style="text-anchor:start">(向丘遊園駅</text><text class="av" x="403" y="278" style="text-anchor:start">方面のみ)</text>
<text class="av" x="382.5" y="166" style="text-anchor:start" textLength="74">(おし沼方向のみ)</text>
<text class="a" x="106" y="80" style="font-size:7.5px">至 新宿</text><text class="a" x="378" y="49" style="font-size:7.5px">至 新宿</text><text class="a" x="650" y="49" style="font-size:7.5px">至 渋谷</text>
<text class="a" x="40" y="119.5" style="font-size:7.5px">至 立川</text><text class="a" x="40" y="143" style="font-size:7.5px">至 橋本</text>
<text class="a" x="20" y="529" style="font-size:7.5px">至 小田原</text><text class="a" x="591" y="577" style="font-size:7.5px">至 中央林間</text>
<text class="av" x="805" y="114" style="font-size:7.5px;text-anchor:start" textLength="27">至川崎</text>
<text class="av" x="133" y="92" style="font-size:7px;text-anchor:start">京王</text><text class="av" x="125" y="92" style="font-size:7px;text-anchor:start">相模原線</text>
<text class="av" x="30" y="448" style="font-size:7.5px;text-anchor:start">小田急小田原線</text>
<text class="av" x="671" y="357" style="font-size:7.5px;text-anchor:start">東急田園都市線</text>
<text class="l" x="18" y="577" style="font-size:6.4px">※この路線図には、読みやすいユニバーサルデザインフォントを使用しています。</text>
</g>
<g id="date"><rect x="893" y="5" width="90" height="12.5" rx="6" fill="#1b9fe0"/><text class="h" x="938" y="11" style="fill:#fff;font-size:9px">2025年4月1日 現在</text></g>
<g id="legend">
<text class="lh" x="851" y="193">色別</text><text class="lh" x="868" y="193">路線名</text><text class="lh" x="887" y="193">系統番号</text><text class="lh" x="948" y="193">運行系統</text>
<rect x="847" y="199" width="9" height="63" fill="#e8302a"/><rect x="847" y="262" width="9" height="19.500" fill="#10ad5a"/><rect x="847" y="281.500" width="9" height="62.500" fill="#1797df"/><rect x="847" y="344" width="9" height="9" fill="#f680cb"/><rect x="847" y="353" width="9" height="10" fill="#1797df"/><rect x="847" y="363" width="9" height="18" fill="#f78f1e"/><rect x="847" y="381" width="9" height="9" fill="#8a3fae"/><rect x="847" y="390" width="9" height="18" fill="#f680cb"/><rect x="847" y="408" width="9" height="19" fill="#5cc9f5"/><rect x="847" y="427" width="9" height="18" fill="#b4573f"/><rect x="847" y="445" width="9" height="9" fill="#f78f1e"/><rect x="847" y="454" width="9" height="9" fill="#2db7bf"/><rect x="847" y="463" width="9" height="19" fill="#a4189c"/><rect x="847" y="482" width="9" height="9" fill="#8c8c8c"/><rect x="847" y="491" width="9" height="45" fill="#ffd600"/><rect x="847" y="536" width="9" height="18" fill="#1c5fb7"/><rect x="847" y="554" width="9" height="18" fill="#7dc42f"/>
<path class="sep" style="stroke-width:.8" d="M881 199H982M881 208.500H982M881 217.500H982M881 226.500H982M881 235.500H982M881 244.500H982M881 253.500H982M857 262.500H982M881 272H982M857 281.500H982M902 290H982M902 299H982M902 308.500H982M881 326.500H982M881 317.500H982M902 335.500H982M857 344.500H982M881 353.500H982M881 362.500H982M881 371.500H982M857 380.500H982M857 390H982M881 399.500H982M881 408.500H982M881 417.500H982M881 426.500H982M881 435.500H982M857 444.500H982M881 454H982M857 463.500H982M881 472.500H982M857 482H982M857 491H982M881 499.500H982M881 508.500H982M881 517.500H982M881 526.500H982M857 536H982M881 544.500H982M881 553.500H982M881 563H982M857 572.500H982"/>
<text class="lg" x="868" y="235">柿生</text><text class="lh" x="868" y="245">(一部共通)</text><text class="lg" x="868" y="337">犬蔵</text><text class="lg" x="868" y="417">生田</text>
<text class="lg" x="869" y="449" style="font-size:7px" textLength="25" lengthAdjust="spacingAndGlyphs">藤子・F・不二雄</text><text class="lg" x="869" y="459" style="font-size:7px" textLength="25" lengthAdjust="spacingAndGlyphs">ミュージアム線</text>
<text class="lg" x="868" y="473">西菅</text><text class="lg" x="868" y="513">五所塚</text><text class="lg" x="869" y="554" textLength="22" lengthAdjust="spacingAndGlyphs">カリタス</text>
<text class="ln" x="889" y="204">柿04</text><text class="ln" x="889" y="213">溝11</text><text class="ln" x="889" y="222">溝17</text><text class="ln" x="889" y="231">溝18</text><text class="ln" x="889" y="249">溝19</text><text class="ln" x="889" y="267">新12</text><text class="ln" x="889" y="277">新13</text><text class="ln" x="889" y="286">溝15</text><text class="ln" x="889" y="331">溝16</text><text class="ln" x="889" y="349">宮04</text><text class="ln" x="889" y="358">宮05</text><text class="ln" x="889" y="367">鷺31</text><text class="ln" x="889" y="376">鷺32</text><text class="ln" x="889" y="385">た83</text><text class="ln" x="889" y="395">生01</text><text class="ln" x="889" y="413">生02</text><text class="ln" x="889" y="431">生03</text><text class="ln" x="889" y="468">登14</text><text class="ln" x="889" y="486">直行</text><text class="ln" x="889" y="495">登05</text><text class="ln" x="889" y="540">登06</text><text class="ln" x="889" y="558">登21</text>
<text class="lc" x="902" y="204" textLength="78" lengthAdjust="spacingAndGlyphs">柿生駅前〜鷲ヶ峰営業所前</text>
<text class="lc" x="902" y="213" textLength="80" lengthAdjust="spacingAndGlyphs">新百合丘駅前〜溝口駅南口</text>
<text class="lc" x="902" y="222" textLength="66" lengthAdjust="spacingAndGlyphs">菅生車庫〜溝口駅南口</text>
<text class="lc" x="902" y="231" textLength="80" lengthAdjust="spacingAndGlyphs" style="font-size:6px">鷲ヶ峰営業所前〜溝口駅南口(第三京浜入口)</text>
<text class="lc" x="902" y="240" textLength="76" lengthAdjust="spacingAndGlyphs">聖マリ医大前〜溝口駅南口</text>
<text class="lc" x="902" y="249" textLength="66" lengthAdjust="spacingAndGlyphs">おし沼→溝口駅南口</text>
<text class="lc" x="902" y="258" textLength="80" lengthAdjust="spacingAndGlyphs">向丘遊園駅南口〜溝口駅南口</text>
<text class="lc" x="902" y="267" textLength="80" lengthAdjust="spacingAndGlyphs">鷲ヶ峰営業所前〜新百合丘駅前</text>
<text class="lc" x="902" y="277" textLength="80" lengthAdjust="spacingAndGlyphs">新百合丘駅前〜新百合丘駅前</text>
<text class="lc" x="902" y="286" textLength="76" lengthAdjust="spacingAndGlyphs">宮前平駅(宮前区役所)〜</text>
<text class="lc" x="908" y="295" textLength="74" lengthAdjust="spacingAndGlyphs">溝口駅南口(第三京浜入口)</text>
<text class="lc" x="902" y="304" textLength="76" lengthAdjust="spacingAndGlyphs">宮前平駅(宮前区役所)〜</text>
<text class="lc" x="908" y="313" textLength="70" lengthAdjust="spacingAndGlyphs">溝口駅前(第三京浜入口)</text>
<text class="lc" x="902" y="322" textLength="62" lengthAdjust="spacingAndGlyphs">白幡八幡前→宮前平駅</text>
<text class="lc" x="902" y="331" textLength="78" lengthAdjust="spacingAndGlyphs">聖マリ医大前〜溝口駅南口</text>
<text class="lc" x="902" y="340" textLength="80" lengthAdjust="spacingAndGlyphs">鷲ヶ峰営業所前〜溝口駅南口</text>
<text class="lc" x="902" y="349" textLength="80" lengthAdjust="spacingAndGlyphs" style="font-size:6px">宮前平駅(宮前区役所)〜鷲ヶ峰営業所前</text>
<text class="lc" x="902" y="358" textLength="80" lengthAdjust="spacingAndGlyphs" style="font-size:6px">宮前平駅(宮前区役所)〜聖マリ医大前</text>
<text class="lc" x="902" y="367" textLength="64" lengthAdjust="spacingAndGlyphs">鷺沼駅〜聖マリ医大前</text>
<text class="lc" x="902" y="376" textLength="70" lengthAdjust="spacingAndGlyphs">鷺沼駅〜鷲ヶ峰営業所前</text>
<text class="lc" x="902" y="385" textLength="80" lengthAdjust="spacingAndGlyphs">向丘遊園駅南口〜たまプラーザ駅</text>
<text class="lc" x="902" y="395" textLength="80" lengthAdjust="spacingAndGlyphs">生田駅〜宮前平駅(宮前区役所)</text>
<text class="lc" x="902" y="404" textLength="80" lengthAdjust="spacingAndGlyphs" style="font-size:6.500px">生田駅〜長沢入口〜鷲ヶ峰営業所前</text>
<text class="lc" x="902" y="413" textLength="70" lengthAdjust="spacingAndGlyphs">生田駅〜鷲ヶ峰営業所前</text>
<text class="lc" x="902" y="422" textLength="80" lengthAdjust="spacingAndGlyphs">生田駅〜平野〜聖マリ医大前</text>
<text class="lc" x="902" y="431" textLength="80" lengthAdjust="spacingAndGlyphs" style="font-size:6px">生田駅〜南生田三丁目〜聖マリ医大前</text>
<text class="lc" x="902" y="440" textLength="80" lengthAdjust="spacingAndGlyphs" style="font-size:6px">生田駅〜南生田三丁目〜鷲ヶ峰営業所前</text>
<text class="lc" x="902" y="449" textLength="80" lengthAdjust="spacingAndGlyphs">登戸駅〜藤子・F・不二雄ミュージアム</text>
<text class="lc" x="902" y="459" textLength="80" lengthAdjust="spacingAndGlyphs" style="font-size:6px">登戸駅〜藤子・F・不二雄ミュージアム〜生田緑地</text>
<text class="lc" x="902" y="468" textLength="80" lengthAdjust="spacingAndGlyphs">西菅団地〜登戸駅(向丘遊園駅南口)</text>
<text class="lc" x="902" y="477" textLength="60" lengthAdjust="spacingAndGlyphs">菅四丁目→西菅団地</text>
<text class="lc" x="902" y="486" textLength="80" lengthAdjust="spacingAndGlyphs">溝口駅前〜アマゾン川崎FC</text>
<text class="lc" x="902" y="495" textLength="80" lengthAdjust="spacingAndGlyphs">登戸駅(生田緑地口)〜菅生車庫</text>
<text class="lc" x="902" y="504" textLength="80" lengthAdjust="spacingAndGlyphs" style="font-size:6px">登戸駅(生田緑地口)〜鷲ヶ峰営業所前</text>
<text class="lc" x="902" y="513" textLength="76" lengthAdjust="spacingAndGlyphs">登戸駅(生田緑地口)→堀下</text>
<text class="lc" x="902" y="522" textLength="80" lengthAdjust="spacingAndGlyphs" style="font-size:6px">登戸駅(生田緑地口)→向丘出張所</text>
<text class="lc" x="902" y="531" textLength="80" lengthAdjust="spacingAndGlyphs" style="font-size:6px">登戸駅(生田緑地口)〜宮前区役所前</text>
<text class="lc" x="902" y="540" textLength="80" lengthAdjust="spacingAndGlyphs">鷲ヶ峰営業所前〜カリタス学園</text>
<text class="lc" x="902" y="549" textLength="80" lengthAdjust="spacingAndGlyphs" style="font-size:6px">鷲ヶ峰営業所前〜中野島多摩川住宅</text>
<text class="lc" x="902" y="558" textLength="80" lengthAdjust="spacingAndGlyphs" style="font-size:6px">新船島橋〜和泉〜中野島多摩川住宅</text>
<text class="lc" x="902" y="568" textLength="80" lengthAdjust="spacingAndGlyphs">新船島橋〜和泉〜カリタス学園</text>
<text class="l" x="846" y="578" style="font-size:6px;fill:#666">※一部共通→民営バスとの共通定期券あり</text>
</g>
<g id="callouts">
<g id="c1"><rect class="c" x="333" y="107" width="94" height="45" rx="10"/><text class="ct" x="380" y="129.500">登戸駅</text></g>
<g id="c2"><rect class="c" x="441" y="107" width="118" height="45" rx="10"/><text class="ct" x="500" y="129.500">宿河原駅</text></g>
<g id="c3"><rect class="c" x="618" y="107" width="94" height="45" rx="10"/><text class="ct" x="665" y="129.500">溝口駅</text></g>
<g id="c4"><rect class="c" x="166" y="175" width="93" height="44" rx="10"/><text class="ct" x="212.500" y="197">生田駅</text></g>
<g id="c5"><rect class="c" x="292" y="175" width="168" height="44" rx="10"/><text class="ct" x="376" y="197">向ヶ丘遊園駅</text></g>
<g id="c6"><rect class="c" x="0" y="300" width="168" height="44" rx="10"/><text class="ct" x="84" y="322">新百合ヶ丘駅</text></g>
<g id="c7"><rect class="c" x="0" y="354" width="93" height="44" rx="10"/><text class="ct" x="46.500" y="376">柿生駅</text></g>
<g id="c8"><rect class="c" x="618" y="436" width="119" height="44" rx="10"/><text class="ct" x="677.500" y="458">宮前平駅</text></g>
<g id="c9"><rect class="c" x="631" y="501" width="93" height="44" rx="10"/><text class="ct" x="677.500" y="523">鷺沼駅</text></g>
</g>
</svg>
